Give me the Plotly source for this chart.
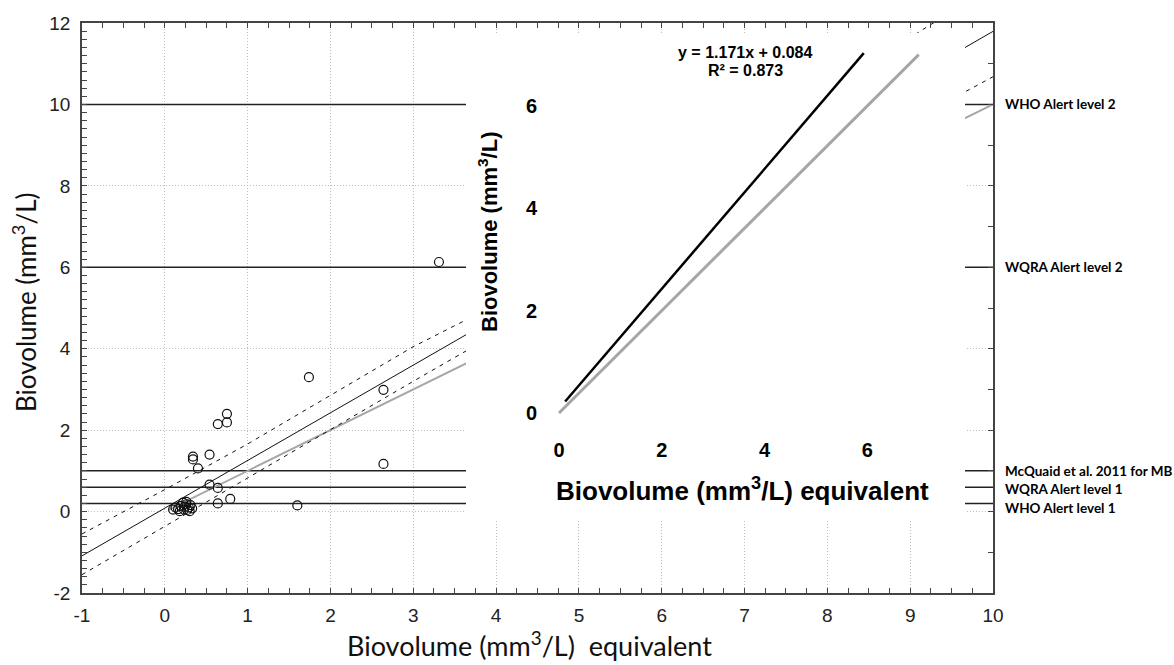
import plotly.graph_objects as go

# ---------------- data ----------------
pts_x = [3.31, 1.74, 2.64, 2.64, 0.75, 0.64, 0.75, 0.34, 0.34, 0.54, 0.40, 0.54, 0.64, 0.79, 0.64, 1.60,
         0.10, 0.13, 0.16, 0.19, 0.22, 0.24, 0.26, 0.27, 0.29, 0.31, 0.30, 0.18, 0.23, 0.33, 0.26]
pts_y = [6.13, 3.30, 2.99, 1.17, 2.40, 2.15, 2.19, 1.35, 1.28, 1.40, 1.06, 0.66, 0.58, 0.31, 0.20, 0.15,
         0.05, 0.10, 0.06, 0.14, 0.22, 0.12, 0.24, 0.04, 0.10, 0.16, 0.01, 0.01, 0.05, 0.08, 0.18]

slope = 1.171
intercept = 0.084
reg_x = [-1, 10]

band_x = [-1, 0, 1, 2, 3, 3.65, 9.2, 10]
band_upper = [-0.55, 0.54, 1.66, 2.85, 4.05, 4.72, 11.90, 12.9]
band_lower = [-1.55, -0.36, 0.84, 2.02, 3.20, 3.96, 9.80, 10.68]

one_x = [0.05, 10]

alert_levels = [10, 6, 1, 0.6, 0.2]
alert_labels = ["WHO Alert level 2", "WQRA Alert level 2", "McQuaid et al. 2011 for MB",
                "WQRA Alert level 1", "WHO Alert level 1"]
alert_label_y = [10, 6, 1.0, 0.56, 0.1]

x_tickvals = list(range(-1, 11))
x_ticktext = [str(v) for v in x_tickvals]
y_tickvals = list(range(-2, 13, 2))
y_ticktext = [str(v) for v in y_tickvals]

inset_reg_x = [0.12, 5.93]
inset_one_x = [0.0, 7.0]
inset_ticks = [0, 2, 4, 6]
inset_xrange = [-1.809, 7.899]
inset_yrange = [-2.09, 7.422]

# ---------------- layout helpers ----------------
W, H = 1174, 665
L, R, T, B = 82, 993, 23, 593
def px(x):
    return (x - L) / (R - L)
def py(y):
    return (B - y) / (B - T)

fig = go.Figure()

# alert horizontal lines
for lv in alert_levels:
    fig.add_trace(go.Scatter(x=[-1, 10], y=[lv, lv], mode="lines",
                             line=dict(color="#222222", width=1.5), showlegend=False, hoverinfo="skip"))

# 1:1 line
fig.add_trace(go.Scatter(x=one_x, y=one_x, mode="lines",
                         line=dict(color="#a6a6a6", width=2), showlegend=False))
# confidence bands
fig.add_trace(go.Scatter(x=band_x, y=band_upper, mode="lines",
                         line=dict(color="#111111", width=1, dash="4px,5px"), showlegend=False))
fig.add_trace(go.Scatter(x=band_x, y=band_lower, mode="lines",
                         line=dict(color="#111111", width=1, dash="4px,5px"), showlegend=False))
# regression
fig.add_trace(go.Scatter(x=reg_x, y=[slope * v + intercept for v in reg_x], mode="lines",
                         line=dict(color="#111111", width=1), showlegend=False))
# points
fig.add_trace(go.Scatter(x=pts_x, y=pts_y, mode="markers",
                         marker=dict(symbol="circle-open", size=9, color="#111111", line=dict(width=1.2)),
                         showlegend=False))

# dummy trace for top/right tick axes
fig.add_trace(go.Scatter(x=[None], y=[None], xaxis="x2", yaxis="y2", showlegend=False))

# inset traces
fig.add_trace(go.Scatter(x=inset_one_x, y=inset_one_x, mode="lines", xaxis="x3", yaxis="y3",
                         line=dict(color="#a6a6a6", width=3), showlegend=False))
fig.add_trace(go.Scatter(x=inset_reg_x, y=[slope * v + intercept for v in inset_reg_x], mode="lines",
                         xaxis="x3", yaxis="y3",
                         line=dict(color="#000000", width=2.5), showlegend=False))

tickfont = dict(family="Liberation Sans, Arial", size=19, color="#222222")
grid = dict(showgrid=True, gridcolor="#bdbdbd", griddash="1px,2px", gridwidth=1)
bold20 = dict(family="Liberation Sans, Arial", size=20, color="#000", weight="bold")

fig.update_layout(
    width=W, height=H,
    margin=dict(l=L, r=W - R, t=T, b=H - B),
    paper_bgcolor="white", plot_bgcolor="white",
    xaxis=dict(range=[-1, 10], domain=[0, 1], tickvals=x_tickvals, ticktext=x_ticktext,
               ticks="inside", ticklen=5, tickcolor="#444", tickwidth=1.2,
               minor=dict(dtick=0.25, tick0=0, ticks="inside", ticklen=5, tickcolor="#444", showgrid=False),
               showline=True, linecolor="#444", linewidth=1.5, mirror=True, zeroline=False,
               tickfont=tickfont, ticklabelstandoff=4, **grid),
    yaxis=dict(range=[-2, 12], domain=[0, 1], tickvals=y_tickvals, ticktext=y_ticktext,
               ticks="inside", ticklen=5, tickcolor="#444", tickwidth=1.2,
               minor=dict(dtick=0.2, tick0=0, ticks="inside", ticklen=5, tickcolor="#444", showgrid=False),
               showline=True, linecolor="#444", linewidth=1.5, mirror=True, zeroline=False,
               tickfont=tickfont, ticklabelstandoff=6, **grid),
    xaxis2=dict(range=[-1, 10], overlaying="x", side="top", dtick=0.25, tick0=0, ticks="inside",
                ticklen=5, tickcolor="#444", showticklabels=False, showgrid=False, zeroline=False),
    yaxis2=dict(range=[-2, 12], overlaying="y", side="right", dtick=1, tick0=0, ticks="inside",
                ticklen=5, tickcolor="#444", showticklabels=False, showgrid=False, zeroline=False),
    xaxis3=dict(domain=[px(466), px(965)], anchor="free", position=py(436),
                range=inset_xrange, tickvals=inset_ticks, ticks="", showline=False,
                showgrid=False, zeroline=False, tickfont=bold20),
    yaxis3=dict(domain=[py(520), py(33)], anchor="free", position=px(537),
                range=inset_yrange, tickvals=inset_ticks, ticks="", showline=False,
                showgrid=False, zeroline=False, tickfont=bold20),
    shapes=[dict(type="rect", xref="x3", yref="y3",
                 x0=inset_xrange[0], x1=inset_xrange[1], y0=inset_yrange[0], y1=inset_yrange[1],
                 fillcolor="white", line=dict(width=0), layer="below")],
)

ann = []
def A(text, x, y, font, **kw):
    d = dict(text=text, x=x, y=y, xref="paper", yref="paper", showarrow=False,
             xanchor="center", yanchor="middle", font=font)
    d.update(kw)
    ann.append(d)

def lato(s):
    return dict(family="Lato", size=s, color="#111")
def boldf(s):
    return dict(family="Liberation Sans, Arial", size=s, color="#000", weight="bold")

# main axis titles
A("Biovolume (mm<sup>3</sup>/L)", px(24), py(303), lato(26), textangle=-90)
A("Biovolume (mm<sup>3</sup>/L)&nbsp;&nbsp;equivalent", px(529), py(644), lato(27))
# inset titles
A("Biovolume (mm<sup>3</sup>/L)", px(488), py(232), boldf(22), textangle=-90)
A("Biovolume (mm<sup>3</sup>/L) equivalent", px(742), py(489), boldf(26))
# equation
A("y = %.3fx + %.3f" % (slope, intercept), px(745), py(52), boldf(16))
A("R² = 0.873", px(745), py(70), boldf(16))
# alert labels
for lab, yv in zip(alert_labels, alert_label_y):
    ann.append(dict(text=lab, x=px(1003), y=yv, xref="paper", yref="y", xanchor="left",
                    yanchor="middle", showarrow=False,
                    font=dict(family="Lato", size=13.5, color="#000", weight="bold")))
fig.update_layout(annotations=ann)

fig.write_html("out.html")
